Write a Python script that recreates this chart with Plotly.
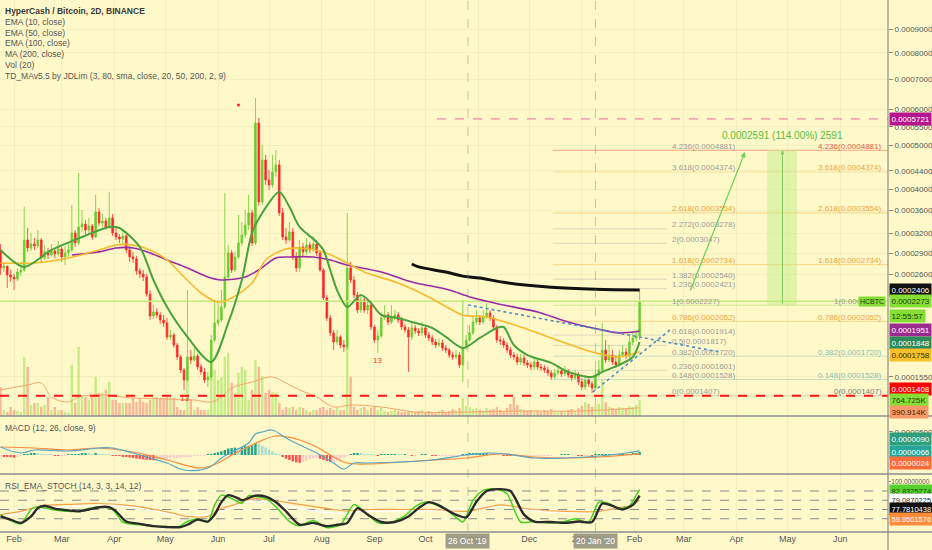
import math
import pandas as pd
import plotly.graph_objects as go

# ---------------- DATA (prices in units of 1e-7 BTC) ----------------
PRICE_UNIT = 1e-7
first_open = 2946
closes = [
    2689, 2716, 2595, 2569, 2543, 2635, 2662, 3099, 2976, 3037,
    3006, 3099, 2829, 2917, 2872, 2931, 2887, 2961, 2843, 2902,
    2946, 3211, 3053, 3310, 3360, 3260, 3326, 3146, 3572, 3378,
    3412, 3310, 3465, 3211, 3146, 3114, 3162, 2946, 2843, 2815,
    2649, 2609, 2569, 2357, 2108, 2151, 2119, 2066, 2035, 1896,
    1915, 1820, 1713, 1604, 1525, 1713, 1687, 1721, 1629, 1588,
    1525, 1548, 1867, 2035, 2066, 2207, 2569, 2902, 2662, 2843,
    3053, 3178, 3343, 3554, 3053, 5606, 3758, 4648, 4200, 4095,
    4374, 4532, 3554, 3146, 3099, 3227, 2843, 2689, 2991, 2917,
    3021, 2946, 3037, 2902, 2662, 2310, 2087, 1935, 1848, 1896,
    1820, 1802, 2689, 2530, 2345, 2173, 2286, 2173, 2229, 1994,
    1867, 1905, 2087, 2119, 2045, 2098, 2119, 2066, 1994, 1964,
    1896, 1984, 1954, 1935, 1984, 1915, 1886, 1848, 1820, 1839,
    1793, 1775, 1730, 1713, 1730, 1645, 1793, 1867, 1935, 2045,
    2087, 2045, 2098, 2140, 2087, 1994, 1867, 1858, 1820, 1775,
    1730, 1713, 1670, 1704, 1662, 1645, 1629, 1670, 1629, 1620,
    1604, 1580, 1548, 1580, 1596, 1572, 1596, 1564, 1541, 1564,
    1510, 1471, 1525, 1495, 1464, 1564, 1604, 1775, 1687, 1730,
    1670, 1645, 1730, 1757, 1721, 1848, 1886, 1905, 2273,
]
highs = [
    3037, 2772, 2716, 2662, 2609, 2689, 2772, 3665, 3293, 3211,
    3130, 3260, 3130, 3021, 2976, 3037, 2976, 3083, 2991, 3006,
    3053, 3702, 3260, 4352, 3608, 3429, 3465, 3360, 3893, 3646,
    3536, 3465, 3953, 3536, 3293, 3195, 3260, 3195, 3006, 2917,
    2858, 2689, 2662, 2609, 2405, 2229, 2196, 2151, 2119, 2087,
    1964, 1935, 1839, 1730, 1620, 2405, 1775, 1793, 1740, 1653,
    1620, 1588, 1915, 2286, 2286, 2405, 3933, 3021, 2946, 2917,
    3518, 3395, 3608, 3893, 3608, 6362, 5750, 5015, 4767, 4418,
    4767, 4889, 4648, 3646, 3293, 3395, 3293, 2917, 3099, 3053,
    3130, 3068, 3162, 3099, 2946, 2689, 2345, 2119, 1964, 1964,
    1915, 1867, 3554, 2772, 2582, 2381, 2333, 2310, 2286, 2263,
    2014, 1964, 2151, 2229, 2151, 2229, 2173, 2151, 2098, 2025,
    1994, 2035, 2014, 1984, 2045, 2004, 1944, 1915, 1877, 1886,
    1867, 1820, 1793, 1757, 1775, 1757, 2286, 1915, 2014, 2119,
    2173, 2119, 2173, 2252, 2173, 2119, 2014, 1905, 1886, 1848,
    1802, 1757, 1740, 1740, 1730, 1687, 1670, 1704, 1687, 1653,
    1645, 1629, 1604, 1612, 1629, 1620, 1637, 1612, 1588, 1604,
    1588, 1541, 1564, 1548, 1517, 1604, 1687, 2035, 1867, 1820,
    1775, 1730, 1775, 1820, 1793, 1915, 1944, 1964, 2405,
]
lows = [
    2595, 2635, 2430, 2505, 2405, 2517, 2582, 2635, 2917, 2931,
    2946, 2976, 2772, 2800, 2815, 2843, 2829, 2858, 2772, 2730,
    2843, 2917, 2991, 3021, 3227, 3195, 3211, 3099, 3130, 3326,
    3310, 3260, 3276, 3162, 3099, 3053, 3037, 2902, 2772, 2758,
    2595, 2556, 2517, 2322, 2066, 2077, 2087, 2025, 1994, 1867,
    1867, 1793, 1687, 1580, 1449, 1510, 1653, 1670, 1604, 1564,
    1502, 1471, 1525, 1848, 2004, 2045, 2184, 2530, 2622, 2635,
    2815, 3006, 3130, 3260, 3006, 3021, 3683, 3702, 4095, 3993,
    4034, 4265, 3500, 3099, 3037, 3068, 2800, 2635, 2635, 2858,
    2872, 2902, 2917, 2858, 2635, 2286, 2056, 1905, 1775, 1820,
    1793, 1757, 1775, 2492, 2310, 2140, 2140, 2140, 2130, 1964,
    1839, 1748, 1886, 2066, 2014, 2025, 2066, 2035, 1964, 1935,
    1588, 1867, 1925, 1905, 1905, 1886, 1858, 1820, 1793, 1802,
    1766, 1748, 1704, 1687, 1695, 1620, 1510, 1775, 1848, 1915,
    2025, 2014, 2025, 2077, 2056, 1964, 1839, 1820, 1793, 1748,
    1704, 1687, 1645, 1645, 1637, 1620, 1604, 1604, 1604, 1596,
    1580, 1556, 1525, 1533, 1564, 1548, 1556, 1541, 1517, 1525,
    1486, 1449, 1449, 1471, 1427, 1449, 1548, 1588, 1662, 1670,
    1645, 1620, 1629, 1713, 1695, 1704, 1820, 1858, 1867,
]
volume_k = [
    1390, 290, 195, 430, 285, 240, 190, 2830, 2350, 525,
    620, 630, 435, 530, 910, 290, 430, 290, 285, 195,
    150, 2450, 620, 3310, 915, 905, 770, 910, 1870, 1100,
    1110, 1250, 1630, 765, 770, 625, 620, 630, 625, 865,
    670, 860, 675, 620, 770, 910, 915, 860, 865, 910,
    905, 860, 430, 290, 285, 1730, 770, 290, 430, 285,
    290, 290, 2110, 2210, 1725, 1870, 2830, 3020, 1585, 1100,
    2060, 2350, 2210, 770, 1250, 2690, 2350, 1920, 1105, 1245,
    1150, 1100, 625, 290, 430, 385, 430, 285, 435, 385,
    290, 195, 290, 285, 385, 430, 290, 380, 290, 385,
    290, 285, 3840, 1870, 430, 290, 385, 430, 290, 385,
    480, 290, 385, 240, 190, 245, 290, 240, 195, 190,
    240, 195, 190, 240, 290, 195, 240, 145, 190, 240,
    290, 195, 240, 335, 290, 385, 865, 480, 430, 335,
    385, 290, 240, 385, 290, 335, 430, 290, 240, 385,
    575, 910, 530, 335, 290, 240, 290, 195, 240, 190,
    290, 240, 335, 240, 195, 240, 190, 290, 335, 240,
    385, 480, 670, 575, 430, 480, 575, 1730, 670, 430,
    385, 335, 430, 385, 335, 480, 430, 530, 764.725,
]
# MACD histogram in units of 1e-6
macd_hist = [
    -2, -3, -4, -5, -6, -4, -1, 1, 2, 2.5,
    3, 2.5, 2, 1.5, 1, 0.5, -0.5, -1, -1, -0.5,
    0.5, 1, 1.5, 2, 2.5, 3, 2.5, 2, 2.5, 2,
    1.5, 1, 0.5, -0.5, -1, -2, -3, -4.5, -5.5, -6.5,
    -7.5, -8.5, -9.5, -10.5, -11, -11.5, -10, -9, -8.5, -8,
    -7.5, -7, -6.5, -6, -5, -4, -3, -2, -1.5, -1,
    -0.5, 0.5, 2, 4, 6, 8, 11, 14, 15, 16,
    15, 17, 19, 20, 21, 26, 24, 20, 16, 12,
    8, 4, 0.5, -4, -8, -11, -14, -16, -17, -15,
    -12, -9, -7, -6, -8, -11, -13, -15, -15, -12,
    -9, -6, -2, 2, 3, 3, 2.5, 2, 1.5, 1,
    0, -0.5, 0.5, 1, 1, 1.5, 1.5, 1, 0.5, 0.5,
    0, -0.5, -0.5, 0, 0.5, 0.5, 0, -0.5, -1, -1,
    -1, -1, -1, -1, -0.5, -0.5, 0.5, 1.5, 2.5, 3.5,
    4, 4, 4, 4, 3.5, 2.5, 1, 0, -0.5, -1,
    -1.5, -1.5, -1.5, -1.5, -1.5, -1.5, -1, -1, -1, -0.5,
    -0.5, -0.5, -0.5, 0, 0, 0.3, 0.3, 0.3, 0, 0,
    -0.3, -0.5, -0.3, -0.3, -0.5, 0.5, 1, 2, 2, 2,
    2, 1.5, 1.5, 1.5, 1.5, 2, 2.5, 3, 6.6,
]

# indicator lines read at candle indices
ema10_idx = [0, 7, 15, 24, 32, 35, 41, 45, 49, 55, 62, 67, 71, 74, 77, 82, 85, 88, 93, 95,
             97, 99, 102, 106, 109, 112, 117, 121, 127, 131, 136, 141, 146, 148, 151, 155, 162, 167, 174, 177,
             182, 186, 188]
ema10_val = [2946, 2703, 2946, 3146, 3310, 3293, 2991, 2530, 2207, 1896, 1670, 2035, 2530, 3211, 3554, 3953, 3665, 3310, 3068, 2946,
             2662, 2405, 2207, 2345, 2252, 2119, 2087, 2045, 1984, 1896, 1793, 1886, 1984, 1994, 1820, 1730, 1662, 1588, 1548, 1588,
             1645, 1713, 1848]
ema50_idx = [0, 10, 20, 29, 34, 39, 44, 49, 54, 59, 64, 68, 74, 78, 83, 88, 95, 102, 107, 117,
             126, 136, 143, 153, 162, 172, 178, 182, 188]
ema50_val = [2758, 2758, 2829, 2946, 3021, 3021, 2946, 2800, 2569, 2369, 2263, 2310, 2492, 2800, 2946, 2976, 2917, 2758, 2635, 2492,
             2322, 2119, 2098, 1994, 1886, 1775, 1730, 1713, 1758]
ema100_idx = [21, 29, 34, 39, 44, 49, 55, 61, 65, 72, 76, 81, 85, 92, 97, 102, 112, 121, 132, 138,
              148, 158, 167, 177, 182, 188]
ema100_val = [2872, 2917, 2976, 2976, 2902, 2800, 2689, 2569, 2530, 2569, 2662, 2829, 2843, 2843, 2800, 2730, 2635, 2505, 2405, 2322,
              2229, 2151, 2045, 1964, 1935, 1951]
ma200_idx = [121, 123, 131, 136, 141, 148, 162, 175, 188]
ma200_val = [2744, 2703, 2635, 2580, 2556, 2500, 2440, 2415, 2406]
vol_ma_idx = [0, 8, 12, 15, 20, 23, 29, 39, 49, 57, 62, 65, 68, 74, 80, 84, 88, 93, 98, 103,
              112, 122, 137, 153, 170, 188]
vol_ma_val = [1243, 1482, 1577, 908, 669, 908, 1004, 860, 813, 765, 669, 908, 1338, 1625, 1864, 1577, 1243, 908, 430, 526,
              430, 191, 191, 239, 239, 390.914]

macd_idx = [0, 6, 10, 20, 29, 33, 39, 44, 49, 54, 61, 65, 68, 73, 75, 77, 80, 84, 88, 93,
            98, 101, 104, 108, 118, 127, 137, 143, 149, 157, 166, 176, 184, 188]
macd_val = [17.4, 4.3, 10.9, 8.7, 15.2, 15.2, 4.3, -6.5, -17.4, -32.6, -28.2, -6.5, 6.5, 26, 45.6, 49.9, 54.3, 36.9, 21.7, 4.3,
            -17.4, -30.4, -17.4, -17.4, -15.2, -10.9, 0, 4.3, 2.2, -6.5, -6.5, -2.2, 4.3, 9.0]
signal_idx = [0, 10, 20, 29, 39, 49, 59, 64, 68, 74, 81, 88, 93, 98, 102, 108, 118, 127, 137, 147,
              157, 166, 176, 188]
signal_val = [17.4, 15.2, 10.9, 15.2, 6.5, -10.9, -28.2, -17.4, 0, 21.7, 41.2, 32.6, 17.4, -4.3, -17.4, -19.5, -15.2, -10.9, -6.5, 2.2,
              -4.3, -6.5, -4.3, 2.4]

stoch_k_idx = [0, 3, 6, 9, 11, 15, 20, 23, 26, 29, 33, 36, 41, 46, 52, 55, 58, 61, 63, 65,
               68, 71, 73, 75, 78, 81, 85, 88, 92, 96, 100, 104, 107, 111, 115, 119, 122, 125, 128, 132,
               136, 137, 139, 142, 146, 149, 153, 157, 162, 166, 169, 173, 176, 179, 182, 185, 187, 188]
stoch_k_val = [29, 16, 9, 40, 46, 40, 36, 37, 42, 46, 40, 13, 7, 4, 2, 14, 20, 13, 50, 71,
               64, 53, 70, 68, 64, 46, 14, 5, 16, 1, 7, 51, 36, 11, 13, 27, 46, 56, 50, 35,
               13, 25, 60, 82, 84, 74, 13, 14, 11, 14, 20, 13, 56, 53, 42, 48, 71, 82.83]
stoch_d_idx = [0, 3, 6, 9, 11, 13, 16, 20, 23, 26, 29, 32, 34, 37, 41, 45, 49, 53, 55, 58,
               61, 63, 65, 67, 70, 71, 75, 78, 81, 84, 88, 92, 96, 99, 102, 105, 108, 112, 116, 120,
               123, 126, 129, 133, 137, 140, 143, 147, 150, 154, 157, 162, 166, 170, 174, 177, 180, 183, 186, 188]
stoch_d_val = [25, 18, 11, 25, 43, 48, 42, 38, 36, 40, 45, 45, 36, 14, 9, 4, 2, 2, 7, 18,
               14, 29, 56, 71, 64, 60, 70, 68, 56, 36, 7, 11, 4, 7, 11, 43, 29, 13, 13, 25,
               43, 56, 49, 32, 23, 57, 80, 84, 80, 29, 14, 13, 11, 14, 13, 53, 48, 40, 50, 70]
rsi_ema_idx = [0, 6, 12, 20, 29, 39, 49, 55, 61, 65, 69, 74, 80, 88, 98, 102, 108, 118, 127, 137,
               142, 147, 152, 157, 166, 176, 181, 186, 188]
rsi_ema_val = [29, 36, 48, 51, 53, 48, 35, 25, 25, 42, 51, 63, 60, 51, 40, 37, 40, 40, 40, 36,
               43, 50, 45, 40, 36, 36, 43, 50, 59.95]
rsi_w_idx = [0, 20, 39, 55, 65, 74, 88, 98, 108, 127, 147, 157, 166, 176, 188]
rsi_w_val = [25, 46, 45, 25, 36, 58, 42, 32, 36, 37, 46, 37, 32, 35, 56]
rsi_bands = [80, 60, 40, 20]

fib_levels = ["4.236", "3.618", "2.618", "2.272", "2", "1.618", "1.382", "1.236",
              "1", "0.786", "0.618", "0.5", "0.382", "0.236", "0.148", "0"]
fib_prices = [4881, 4374, 3554, 3278, 3047, 2734, 2540, 2421,
              2227, 2052, 1914, 1817, 1720, 1601, 1528, 1407]
fib_right = ["4.236", "3.618", "2.618", "1.618", "1", "0.786", "0.382", "0.148", "0"]

last_price = 2273
support_price = 1408
resistance_price = 5721
target_low, target_high = 2227, 4881
trend_down_dates = ["2019-10-26", "2020-03-22"]
trend_down_vals = [2229, 1757]
trend_up_dates = ["2020-01-07 12:00", "2020-02-21 20:00"]
trend_up_vals = [1435, 1964]
proj_arrow_dates = ["2020-03-04 12:00", "2020-04-06"]
proj_arrow_vals = [2381, 4840]
td_dot_idx = [70]
td_dot_val = [6141]
td13_idx = [54, 111]

month_ticks = ["2019-02-01", "2019-03-01", "2019-04-01", "2019-05-01", "2019-06-01", "2019-07-01",
               "2019-08-01", "2019-09-01", "2019-10-01", "2019-11-01", "2019-12-01", "2020-01-01",
               "2020-02-01", "2020-03-01", "2020-04-01", "2020-05-01", "2020-06-01"]
month_text = ["Feb", "Mar", "Apr", "May", "Jun", "Jul", "Aug", "Sep", "Oct", "Nov", "Dec", "2020",
              "Feb", "Mar", "Apr", "May", "Jun"]
price_ticks = [9000, 8000, 7000, 6000, 5500, 5000, 4400, 4000, 3600, 3200, 2900, 2600, 1550]

N = len(closes)
assert len(highs) == N and len(lows) == N and len(volume_k) == N and len(macd_hist) == N

dates = pd.date_range("2019-01-24", periods=N, freq="2D")
opens = [first_open] + closes[:-1]
P = lambda v: v * PRICE_UNIT
L10 = lambda v: math.log10(v * PRICE_UNIT)

# ---------------- STYLE ----------------
FONT = "Liberation Sans Narrow, Arial Narrow, Liberation Sans, sans-serif"
BG = "#fff9c9"
X_RANGE = ["2019-01-23 18:00", "2020-06-29 02:28"]
MAIN_DOM = [0.21805, 1.0]
MACD_DOM = [0.10902, 0.21805]
RSI_DOM = [0.0, 0.10902]

fig = go.Figure()

# volume
vol_colors = ["rgba(160,226,90,0.6)" if c >= o else "rgba(247,140,118,0.6)" for o, c in zip(opens, closes)]
fig.add_trace(go.Bar(x=dates, y=volume_k, marker=dict(color=vol_colors, line_width=0), xaxis="x", yaxis="y"))
fig.add_trace(go.Scatter(x=[dates[k] for k in vol_ma_idx], y=vol_ma_val, mode="lines",
                         line=dict(color="#f5a56a", width=1, shape="spline"), xaxis="x", yaxis="y"))

# fib lines
x_fib0, x_fib1 = "2019-12-15", "2020-02-20"
right_line_col = {"4.236": "rgba(240,120,95,0.65)", "3.618": "rgba(240,190,110,0.45)",
                  "2.618": "rgba(245,185,80,0.6)", "1.618": "rgba(245,185,80,0.6)",
                  "1": "rgba(170,220,110,0.6)", "0.786": "rgba(245,185,80,0.55)",
                  "0.382": "rgba(140,200,190,0.5)", "0.148": "rgba(140,200,190,0.5)",
                  "0": "rgba(150,150,150,0.4)"}
for lv, pr in zip(fib_levels, fib_prices):
    if lv in fib_right:
        xs = [x_fib0, X_RANGE[1]]
        col = right_line_col[lv]
    else:
        xs = [x_fib0, x_fib1]
        col = "rgba(160,160,160,0.35)"
    fig.add_trace(go.Scatter(x=xs, y=[P(pr), P(pr)], mode="lines", line=dict(color=col, width=1),
                             xaxis="x", yaxis="y2"))

# projection box
bx0, bx1 = "2020-04-19", "2020-05-06 14:00"
fig.add_trace(go.Scatter(x=[bx0, bx1, bx1, bx0, bx0],
                         y=[P(target_low), P(target_low), P(target_high), P(target_high), P(target_low)],
                         mode="lines", fill="toself", fillcolor="rgba(190,235,130,0.45)",
                         line=dict(width=0), xaxis="x", yaxis="y2"))

# horizontal levels
fig.add_trace(go.Scatter(x=X_RANGE, y=[P(last_price)] * 2, mode="lines",
                         line=dict(color="#c2ea7c", width=1.5), xaxis="x", yaxis="y2"))
fig.add_trace(go.Scatter(x=["2019-10-07 18:00", X_RANGE[1]], y=[P(resistance_price)] * 2, mode="lines",
                         line=dict(color="#f2659f", width=1, dash="dash"), xaxis="x", yaxis="y2"))

# moving averages
fig.add_trace(go.Scatter(x=[dates[k] for k in ema100_idx], y=[P(v) for v in ema100_val], mode="lines",
                         line=dict(color="#9b2aa6", width=1.6, shape="spline", smoothing=0.8), xaxis="x", yaxis="y2"))
fig.add_trace(go.Scatter(x=[dates[k] for k in ema50_idx], y=[P(v) for v in ema50_val], mode="lines",
                         line=dict(color="#f8b92a", width=1.6, shape="spline", smoothing=0.8), xaxis="x", yaxis="y2"))
fig.add_trace(go.Scatter(x=[dates[k] for k in ma200_idx], y=[P(v) for v in ma200_val], mode="lines",
                         line=dict(color="#111111", width=3, shape="spline"), xaxis="x", yaxis="y2"))

# candles
fig.add_trace(go.Candlestick(
    x=dates, open=[P(v) for v in opens], high=[P(v) for v in highs],
    low=[P(v) for v in lows], close=[P(v) for v in closes],
    increasing=dict(line=dict(color="rgba(105,205,45,0.8)", width=1), fillcolor="#62d232"),
    decreasing=dict(line=dict(color="rgba(255,45,45,0.8)", width=1), fillcolor="#ff2222"),
    whiskerwidth=0, xaxis="x", yaxis="y2"))

fig.add_trace(go.Scatter(x=[dates[k] for k in ema10_idx], y=[P(v) for v in ema10_val], mode="lines",
                         line=dict(color="#4aa23c", width=2, shape="spline", smoothing=0.8), xaxis="x", yaxis="y2"))

# red support dashed
fig.add_trace(go.Scatter(x=X_RANGE, y=[P(support_price)] * 2, mode="lines",
                         line=dict(color="#ff1414", width=2, dash="dash"), xaxis="x", yaxis="y2"))
# trend lines
fig.add_trace(go.Scatter(x=trend_down_dates, y=[P(v) for v in trend_down_vals], mode="lines",
                         line=dict(color="#4c8fc2", width=1.6, dash="dot"), xaxis="x", yaxis="y2"))
fig.add_trace(go.Scatter(x=trend_up_dates, y=[P(v) for v in trend_up_vals], mode="lines",
                         line=dict(color="#4c8fc2", width=1.6, dash="dot"), xaxis="x", yaxis="y2"))
# TD dot
fig.add_trace(go.Scatter(x=[dates[k] for k in td_dot_idx], y=[P(v) for v in td_dot_val], mode="markers",
                         marker=dict(color="#ff2020", size=3), xaxis="x", yaxis="y2"))

# MACD
hist_colors = []
for i, h in enumerate(macd_hist):
    prev = macd_hist[i - 1] if i > 0 else h
    if h >= 0:
        hist_colors.append("#26a48a" if h >= prev else "#a9dccf")
    else:
        hist_colors.append("#ff5050" if h < prev else "#f9cccc")
fig.add_trace(go.Bar(x=dates, y=macd_hist, marker=dict(color=hist_colors, line_width=0), xaxis="x", yaxis="y3"))
fig.add_trace(go.Scatter(x=[dates[k] for k in signal_idx], y=signal_val, mode="lines",
                         line=dict(color="#ff8a3c", width=1.2, shape="spline"), xaxis="x", yaxis="y3"))
fig.add_trace(go.Scatter(x=[dates[k] for k in macd_idx], y=macd_val, mode="lines",
                         line=dict(color="#56a6c4", width=1.2, shape="spline"), xaxis="x", yaxis="y3"))

# RSI / stoch
for b in rsi_bands:
    fig.add_trace(go.Scatter(x=X_RANGE, y=[b, b], mode="lines", line=dict(color="#8a8a8a", width=1, dash="dash"),
                             xaxis="x", yaxis="y4"))
fig.add_trace(go.Scatter(x=[dates[k] for k in rsi_w_idx], y=rsi_w_val, mode="lines",
                         line=dict(color="rgba(255,255,255,0.95)", width=1.2, shape="spline"), xaxis="x", yaxis="y4"))
fig.add_trace(go.Scatter(x=[dates[k] for k in rsi_ema_idx], y=rsi_ema_val, mode="lines",
                         line=dict(color="#f9a04a", width=1.2, shape="spline"), xaxis="x", yaxis="y4"))
fig.add_trace(go.Scatter(x=[dates[k] for k in stoch_k_idx], y=stoch_k_val, mode="lines",
                         line=dict(color="#45d21c", width=1.5, shape="spline", smoothing=0.7), xaxis="x", yaxis="y4"))
fig.add_trace(go.Scatter(x=[dates[k] for k in stoch_d_idx], y=stoch_d_val, mode="lines",
                         line=dict(color="#2b2b2b", width=2.4, shape="spline", smoothing=0.7), xaxis="x", yaxis="y4"))

# ---------------- ANNOTATIONS ----------------
ann = []
H = 532.0


def py(px):
    return (H - px) / H


legend_lines = ["HyperCash / Bitcoin, 2D, BINANCE", "EMA (10, close)", "EMA (50, close)", "EMA (100, close)",
                "MA (200, close)", "Vol (20)", "TD_MAv5.5 by JDLim (3, 80, sma, close, 20, 50, 200, 2, 9)"]
legend_y = [11, 22, 33, 43, 54, 65, 76]
for i, (t, yy) in enumerate(zip(legend_lines, legend_y)):
    ann.append(dict(xref="paper", yref="paper", x=0.0, y=py(yy), xanchor="left", yanchor="middle", xshift=3,
                    text=("<b>%s</b>" % t) if i == 0 else t, showarrow=False,
                    font=dict(family=FONT, size=8.5, color="#3a3a3a" if i == 0 else "#555555")))
ann.append(dict(xref="paper", yref="paper", x=0.0, y=py(428), xanchor="left", yanchor="middle", xshift=3,
                text="MACD (12, 26, close, 9)", showarrow=False, font=dict(family=FONT, size=8.5, color="#555")))
ann.append(dict(xref="paper", yref="paper", x=0.0, y=py(486), xanchor="left", yanchor="middle", xshift=3,
                text="RSI_EMA_STOCH (14, 3, 3, 14, 12)", showarrow=False, font=dict(family=FONT, size=8.5, color="#555")))

# fib labels
orange_left = {"2.618", "1.618", "0.786"}
right_col = {"4.236": "#e2623f", "3.618": "#f3a23a", "2.618": "#f3a23a", "1.618": "#f3a23a", "1": "#9a9a9a",
             "0.786": "#f3a23a", "0.382": "#86bcb4", "0.148": "#86bcb4", "0": "#7a7a7a"}
for lv, pr in zip(fib_levels, fib_prices):
    txt = "%s(%.7f)" % (lv, pr * PRICE_UNIT)
    ann.append(dict(xref="x", yref="y2", x="2020-02-22", y=L10(pr), xanchor="left", yanchor="middle", yshift=4,
                    text=txt, showarrow=False,
                    font=dict(family=FONT, size=8, color="#f3a23a" if lv in orange_left else "#9c9c9c")))
    if lv in fib_right:
        ann.append(dict(xref="paper", yref="y2", x=884 / 888, y=L10(pr), xanchor="right", yanchor="middle", yshift=4,
                        text=txt, showarrow=False, font=dict(family=FONT, size=8, color=right_col[lv])))

# projection
ann.append(dict(xref="x", yref="y2", x=proj_arrow_dates[1], y=L10(proj_arrow_vals[1]),
                axref="x", ayref="y2", ax=proj_arrow_dates[0], ay=L10(proj_arrow_vals[0]),
                showarrow=True, arrowhead=2, arrowsize=0.9, arrowwidth=1.2, arrowcolor="#6ccf5a", text=""))
ann.append(dict(xref="x", yref="y2", x="2020-04-28", y=L10(target_high), axref="x", ayref="y2",
                ax="2020-04-28", ay=L10(target_low), showarrow=True, arrowhead=2, arrowsize=0.8, arrowwidth=1,
                arrowcolor="#7fcf5c", text=""))
ann.append(dict(xref="x", yref="y2", x="2020-04-28", y=L10(target_high), yshift=15, showarrow=False,
                text="0.0002591 (114.00%) 2591", font=dict(family=FONT, size=10, color="#52c040")))

# TD 13 marks
for k in td13_idx:
    ann.append(dict(xref="x", yref="y2", x=dates[k], y=L10(lows[k]), yshift=-8, showarrow=False, text="13",
                    font=dict(family=FONT, size=8, color="#ff3030")))


def rlabel(text, yref, y, bg, fg, yshift=0, size=8):
    ann.append(dict(xref="paper", x=1.0, xanchor="left", xshift=1, yref=yref, y=y, yanchor="middle",
                    yshift=yshift, text=text, showarrow=False, bgcolor=bg, borderpad=1.5,
                    font=dict(family=FONT, size=size, color=fg)))


rlabel("0.0005721", "y2", L10(resistance_price), "#b5168f", "#ffffff")
rlabel("0.0002406", "y2", L10(ma200_val[-1]), "#111111", "#ffffff")
rlabel("0.0002273", "y2", L10(last_price), "#86dd34", "#1f3a10")
rlabel("12:55:57", "y2", L10(last_price), "#86dd34", "#1f3a10", yshift=-15)
rlabel("0.0001951", "y2", L10(ema100_val[-1]), "#9b2a8e", "#ffffff", yshift=1)
rlabel("0.0001848", "y2", L10(ema10_val[-1]), "#2e8b5a", "#ffffff", yshift=-1)
rlabel("0.0001758", "y2", L10(ema50_val[-1]), "#f7c028", "#3a2a00", yshift=-3)
rlabel("0.0001408", "y2", L10(support_price), "#ff0000", "#ffffff", yshift=7)
rlabel("764.725K", "y", volume_k[-1], "#86dd34", "#1f3a10")
rlabel("390.914K", "y", vol_ma_val[-1], "#f79a6a", "#4a2000", yshift=-4)
rlabel("0.0000090", "y3", macd_val[-1], "#2e9e7c", "#ffffff", yshift=12)
rlabel("0.0000066", "y3", macd_hist[-1], "#26a69a", "#ffffff", yshift=0)
rlabel("0.0000024", "y3", signal_val[-1], "#ff6a3a", "#ffffff", yshift=-9)
rlabel("82.8325274", "y4", stoch_k_val[-1], "#56d22e", "#1a3a0a", yshift=-1, size=7.5)
rlabel("79.0870225", "y4", 79.087, "#ffffff", "#333333", yshift=-9, size=7.5)
rlabel("77.7810438", "y4", 77.781, "#111111", "#ffffff", yshift=-17, size=7.5)
rlabel("59.9501576", "y4", rsi_ema_val[-1], "#ff8c3a", "#ffffff", yshift=-19, size=7.5)

ann.append(dict(xref="paper", x=886 / 888, xanchor="right", yref="y2", y=L10(last_price), yanchor="middle",
                text="HCBTC", showarrow=False, bgcolor="#86dd34", borderpad=1,
                font=dict(family=FONT, size=7, color="#1f3a10")))

for dtx, txt in [("2019-10-26", "26 Oct '19"), ("2020-01-09", "20 Jan '20")]:
    ann.append(dict(xref="x", yref="paper", x=dtx, y=py(541), yanchor="middle", text=txt, showarrow=False,
                    bgcolor="rgba(150,148,130,0.9)", borderpad=2, font=dict(family=FONT, size=8.5, color="#ffffff")))

# ---------------- SHAPES ----------------
shapes = []
for yy in [MACD_DOM[1], RSI_DOM[1], 0.0]:
    shapes.append(dict(type="line", xref="paper", yref="paper", x0=0, x1=932 / 888, y0=yy, y1=yy,
                       line=dict(color="#8c8c8c", width=1.5)))
shapes.append(dict(type="line", xref="paper", yref="paper", x0=1, x1=1, y0=-18 / H, y1=1,
                   line=dict(color="#8c8c8c", width=1.2)))
for dtx in ["2019-10-26", "2020-01-09"]:
    shapes.append(dict(type="line", xref="x", yref="paper", x0=dtx, x1=dtx, y0=0, y1=1,
                       line=dict(color="rgba(130,130,120,0.45)", width=1, dash="dash")))

tickfont = dict(family=FONT, size=8, color="#555555")
fig.update_layout(
    width=932, height=550, margin=dict(l=0, r=44, t=0, b=18, autoexpand=False),
    paper_bgcolor=BG, plot_bgcolor="rgba(0,0,0,0)", showlegend=False, hovermode=False,
    bargap=0.28,
    xaxis=dict(type="date", range=X_RANGE, domain=[0, 1], anchor="y4", rangeslider=dict(visible=False),
               tickmode="array", tickvals=month_ticks, ticktext=month_text, ticks="", automargin=False,
               tickfont=dict(family=FONT, size=9, color="#555555"),
               showgrid=True, gridcolor="rgba(120,120,90,0.07)", zeroline=False, showline=False),
    yaxis=dict(domain=MAIN_DOM, range=[0, 19885], visible=False, fixedrange=True, automargin=False),
    yaxis2=dict(domain=MAIN_DOM, type="log", range=[-3.89611, -2.98082], overlaying="y", side="right", anchor="x",
                tickmode="array", tickvals=[P(v) for v in price_ticks], automargin=False,
                ticktext=["%.7f" % P(v) for v in price_ticks], tickfont=tickfont,
                ticks="outside", ticklen=4, tickcolor="#888888",
                showgrid=True, gridcolor="rgba(120,120,90,0.07)", zeroline=False, showline=False),
    yaxis3=dict(domain=MACD_DOM, range=[-41.23, 84.63], side="right", anchor="x", tickmode="array",
                tickvals=[50], ticktext=["0.0000500"], tickfont=tickfont, ticks="outside", ticklen=4,
                tickcolor="#888888", showgrid=False, zeroline=False, automargin=False),
    yaxis4=dict(domain=RSI_DOM, range=[-8.65, 116.76], side="right", anchor="x", tickmode="array",
                tickvals=[100], ticktext=["100.0000000"], tickfont=dict(family=FONT, size=6.5, color="#555555"),
                ticks="outside", ticklen=2, tickcolor="#888888", ticklabelstandoff=-1,
                showgrid=False, zeroline=False, automargin=False),
    annotations=ann, shapes=shapes,
)

fig.write_html("out.html", config={"displayModeBar": False},
               post_script="document.body.style.margin='0px';")
